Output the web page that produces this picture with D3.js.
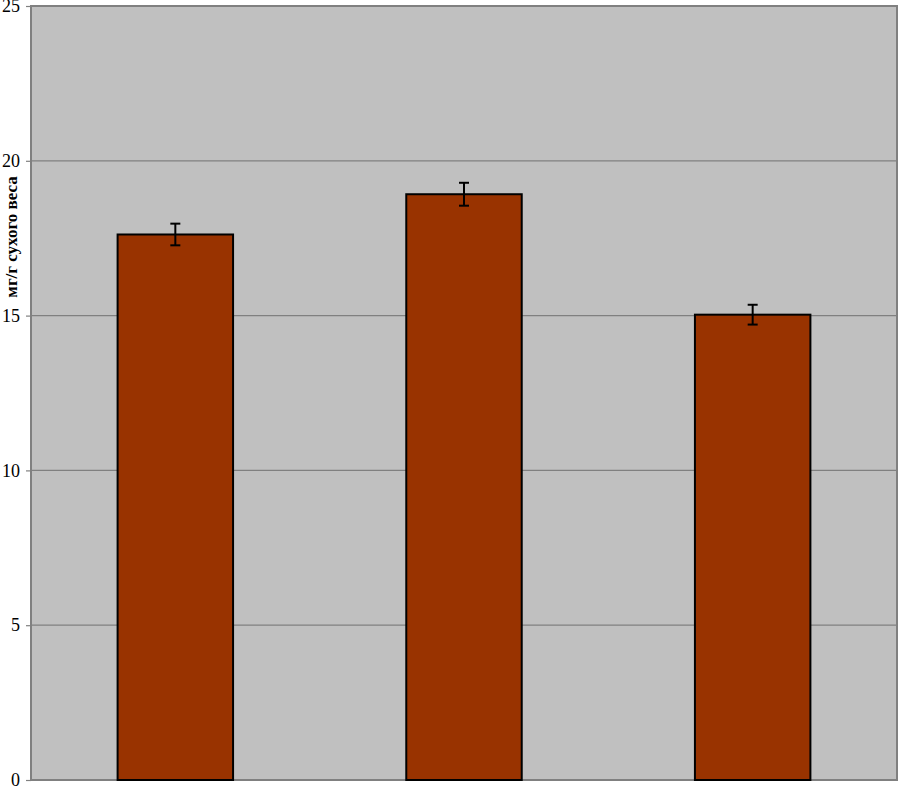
<!DOCTYPE html>
<html><head><meta charset="utf-8">
<script src="https://cdn.jsdelivr.net/npm/d3@7"></script>
<style>body{margin:0;background:#fff;}svg{display:block;} text{font-family:"Liberation Serif","Times New Roman",serif;}</style>
</head><body>
<script>
const categories = ["A", "B", "C"];
const values = [17.62, 18.92, 15.03];
const errors = [0.35, 0.37, 0.32];
const yTicks = [0, 5, 10, 15, 20, 25];
const yLabel = "мг/г сухого веса";

const W = 899, H = 787;
const pL = 31, pR = 897, pT = 6, pB = 780;
const svg = d3.select("body").append("svg").attr("width", W).attr("height", H);

const x = d3.scaleBand().domain(categories).range([pL, pR]).paddingInner(0.6).paddingOuter(0.3);
const y = d3.scaleLinear().domain([0, 25]).range([pB, pT]);

svg.append("rect").attr("x", pL).attr("y", pT).attr("width", pR - pL).attr("height", pB - pT)
  .attr("fill", "#c0c0c0");

svg.append("g").selectAll("line").data(yTicks.filter(d => d > 0 && d < 25)).join("line")
  .attr("x1", pL).attr("x2", pR).attr("y1", d => y(d)).attr("y2", d => y(d))
  .attr("stroke", "#808080").attr("stroke-width", 1.2);

svg.append("rect").attr("x", pL).attr("y", pT).attr("width", pR - pL).attr("height", pB - pT)
  .attr("fill", "none").attr("stroke", "#808080").attr("stroke-width", 2);

const yAxis = d3.axisLeft(y).tickValues(yTicks).tickSize(5).tickPadding(6).tickFormat(d3.format("d"));
const ga = svg.append("g").attr("transform", `translate(${pL},0)`).call(yAxis);
ga.attr("font-family", null);
ga.select(".domain").remove();
ga.selectAll(".tick line").attr("stroke", "#808080").attr("stroke-width", 1.2);
ga.selectAll(".tick text").style("font-family", "'Liberation Serif','Times New Roman',serif")
  .style("font-size", "18px").attr("fill", "#000");

svg.append("g").selectAll("rect").data(categories).join("rect")
  .attr("x", d => x(d)).attr("width", x.bandwidth())
  .attr("y", (d, i) => y(values[i])).attr("height", (d, i) => y(0) - y(values[i]))
  .attr("fill", "#993300").attr("stroke", "#000").attr("stroke-width", 2);

const eb = svg.append("g").attr("stroke", "#000").attr("stroke-width", 2);
categories.forEach((c, i) => {
  const cx = x(c) + x.bandwidth() / 2;
  const y1 = y(values[i] + errors[i]), y2 = y(values[i] - errors[i]);
  eb.append("line").attr("x1", cx).attr("x2", cx).attr("y1", y1).attr("y2", y2);
  eb.append("line").attr("x1", cx - 5).attr("x2", cx + 5).attr("y1", y1).attr("y2", y1);
  eb.append("line").attr("x1", cx - 5).attr("x2", cx + 5).attr("y1", y2).attr("y2", y2);
});

svg.append("text").attr("transform", "translate(17,237) rotate(-90)")
  .attr("text-anchor", "middle")
  .style("font-family", "'Liberation Serif','Times New Roman',serif")
  .style("font-weight", "bold").style("font-size", "17px").text(yLabel);
</script>
</body></html>
